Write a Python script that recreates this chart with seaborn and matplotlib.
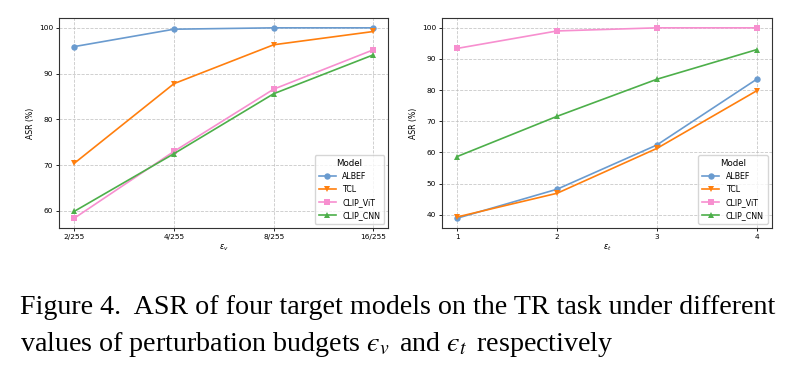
import pandas as pd
import seaborn as sns
import matplotlib.pyplot as plt

# values
MODELS = ["ALBEF", "TCL", "CLIP_ViT", "CLIP_CNN"]
EPS_V = ["2/255", "4/255", "8/255", "16/255"]
EPS_T = [1, 2, 3, 4]

asr_v = {
    "ALBEF": [95.9, 99.7, 100.0, 100.0],
    "TCL": [70.4, 87.8, 96.3, 99.2],
    "CLIP_ViT": [58.4, 73.0, 86.6, 95.2],
    "CLIP_CNN": [59.9, 72.5, 85.6, 94.1],
}
asr_t = {
    "ALBEF": [38.9, 48.2, 62.4, 83.5],
    "TCL": [39.3, 46.9, 61.3, 79.8],
    "CLIP_ViT": [93.4, 99.0, 100.0, 100.0],
    "CLIP_CNN": [58.7, 71.6, 83.5, 93.0],
}

COLORS = {"ALBEF": "#6a9bcf", "TCL": "#ff7f0e", "CLIP_ViT": "#f78fcf", "CLIP_CNN": "#4daf4a"}
MARKERS = {"ALBEF": "o", "TCL": "v", "CLIP_ViT": "s", "CLIP_CNN": "^"}


def to_long(eps, table):
    rows = []
    for m in MODELS:
        for e, v in zip(eps, table[m]):
            rows.append({"eps": e, "ASR": v, "Model": m})
    return pd.DataFrame(rows)


def draw(ax, df, xlabel):
    sns.lineplot(data=df, x="eps", y="ASR", hue="Model", style="Model",
                 hue_order=MODELS, style_order=MODELS, palette=COLORS,
                 markers=MARKERS, dashes=False, markersize=4.6,
                 markeredgewidth=0, linewidth=1.2, ax=ax)
    ax.grid(True, linestyle="--", color="#bbbbbb", linewidth=0.6, alpha=0.8)
    ax.set_xlabel(xlabel, fontsize=5.8, labelpad=2)
    ax.set_ylabel("ASR (%)", fontsize=5.6, labelpad=3)
    ax.tick_params(labelsize=5.3, length=2.5, width=0.6, pad=2)
    for s in ax.spines.values():
        s.set_linewidth(0.8)
        s.set_color("#333333")
    leg = ax.legend(title="Model", loc="lower right", fontsize=5.7,
                    title_fontsize=6.2, markerscale=1.0, handlelength=2.2,
                    borderpad=0.5, labelspacing=0.5, framealpha=0.8)
    for h in leg.legend_handles:
        h.set_linewidth(1.2)


fig = plt.figure(figsize=(8.05, 3.73), dpi=100)
ax1 = fig.add_axes([0.0737, 0.3895, 0.4087, 0.5614])
ax2 = fig.add_axes([0.5494, 0.3895, 0.4092, 0.5614])

draw(ax1, to_long(EPS_V, asr_v), r"$ε_v$")
draw(ax2, to_long(EPS_T, asr_t), r"$ε_t$")
ax2.set_xticks(EPS_T)

cap_kw = dict(fontsize=20.2, family="Liberation Serif", math_fontfamily="stix",
              ha="left", va="baseline")
fig.text(20 / 805, 1 - 314 / 373,
         "Figure 4.  ASR of four target models on the TR task under different", **cap_kw)
fig.text(20 / 805, 1 - 351 / 373,
         r"values of perturbation budgets $ϵ_{v}\,$ and $ϵ_{t}\,$ respectively", **cap_kw)

fig.savefig("out.png", dpi=100)
